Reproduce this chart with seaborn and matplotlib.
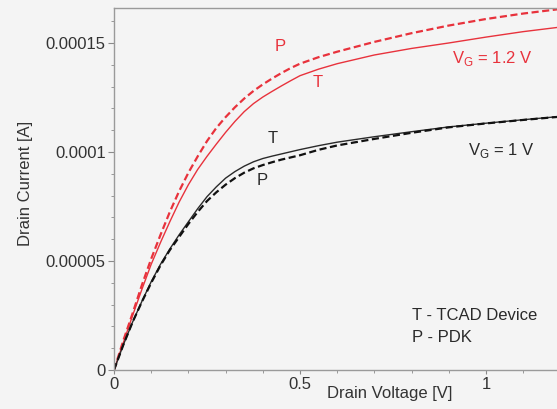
import numpy as np
import pandas as pd
import matplotlib
matplotlib.use("Agg")
import matplotlib.pyplot as plt
import seaborn as sns
from matplotlib.ticker import MultipleLocator, FixedLocator, FixedFormatter

# Drain voltage sweep [V]
vd = [0, 0.025, 0.05, 0.075, 0.1, 0.125, 0.15, 0.175, 0.2, 0.225, 0.25,
      0.275, 0.3, 0.325, 0.35, 0.375, 0.4, 0.425, 0.45, 0.475, 0.5,
      0.55, 0.6, 0.7, 0.8, 0.9, 1.0, 1.1, 1.2]

# Drain current in units of 1e-4 A
id_pdk_12 = [0, 0.135, 0.26, 0.39, 0.51, 0.62, 0.725, 0.82, 0.905, 0.98, 1.05,
             1.11, 1.16, 1.205, 1.245, 1.28, 1.31, 1.337, 1.362, 1.385, 1.405,
             1.435, 1.46, 1.505, 1.545, 1.58, 1.61, 1.635, 1.656]
id_tcad_12 = [0, 0.125, 0.25, 0.37, 0.485, 0.585, 0.68, 0.77, 0.85, 0.92, 0.98,
              1.036, 1.09, 1.14, 1.185, 1.222, 1.252, 1.278, 1.303, 1.327, 1.35,
              1.38, 1.405, 1.445, 1.475, 1.50, 1.527, 1.552, 1.573]
id_tcad_10 = [0, 0.115, 0.22, 0.315, 0.405, 0.485, 0.555, 0.62, 0.68, 0.74, 0.795,
              0.84, 0.88, 0.91, 0.935, 0.955, 0.97, 0.981, 0.991, 1.001, 1.011,
              1.029, 1.045, 1.07, 1.093, 1.115, 1.132, 1.148, 1.163]
id_pdk_10 = [0, 0.115, 0.22, 0.313, 0.40, 0.48, 0.55, 0.61, 0.67, 0.725, 0.775,
             0.815, 0.85, 0.88, 0.905, 0.925, 0.94, 0.953, 0.965, 0.975, 0.985,
             1.01, 1.03, 1.06, 1.088, 1.113, 1.131, 1.147, 1.162]

y_ticks = [0, 0.00005, 0.0001, 0.00015]
y_tick_labels = ["0", "0.00005", "0.0001", "0.00015"]
x_ticks = [0, 0.5, 1]
x_tick_labels = ["0", "0.5", "1"]

bg = "#f4f4f4"
red = "#e8323c"
dark = "#2a2a2a"

sns.set_theme(style="ticks")
plt.rcParams["font.family"] = ["Liberation Sans", "DejaVu Sans"]

fig = plt.figure(figsize=(5.57, 4.09), dpi=100, facecolor=bg)
ax = fig.add_axes([0.2047, 0.0954, 0.7953, 0.8851])
ax.set_facecolor(bg)

scale = 1e-4
n = len(vd)
df = pd.DataFrame({
    "vd": vd * 4,
    "id": np.array(id_pdk_12 + id_tcad_12 + id_tcad_10 + id_pdk_10) * scale,
    "curve": ["P12"] * n + ["T12"] * n + ["T10"] * n + ["P10"] * n,
})

styles = {
    "P12": dict(color=red, linestyle=(0, (3.2, 1.6)), linewidth=1.6),
    "T12": dict(color=red, linestyle="-", linewidth=1.0),
    "T10": dict(color=dark, linestyle="-", linewidth=1.0),
    "P10": dict(color="#111111", linestyle=(0, (3.2, 1.6)), linewidth=1.6),
}
for name, st in styles.items():
    sub = df[df["curve"] == name]
    sns.lineplot(data=sub, x="vd", y="id", ax=ax, legend=False, **st)

ax.set_xlim(0, 1.191)
ax.set_ylim(0, 1.6606 * scale)

ax.xaxis.set_major_locator(FixedLocator(x_ticks))
ax.xaxis.set_major_formatter(FixedFormatter(x_tick_labels))
ax.xaxis.set_minor_locator(MultipleLocator(0.1))
ax.yaxis.set_major_locator(FixedLocator(y_ticks))
ax.yaxis.set_major_formatter(FixedFormatter(y_tick_labels))
ax.yaxis.set_minor_locator(MultipleLocator(0.00001))

tick_col = "#8a8a8a"
ax.tick_params(axis="both", which="major", length=4, width=0.8, color=tick_col,
               labelsize=12, labelcolor="#333333", direction="out")
ax.tick_params(axis="both", which="minor", length=2.5, width=0.6, color=tick_col,
               direction="out")
ax.tick_params(axis="x", which="major", length=3, pad=2)
ax.tick_params(axis="y", which="major", pad=2)

for side in ["left", "bottom", "top"]:
    ax.spines[side].set_color("#9a9a9a")
    ax.spines[side].set_linewidth(1.0)
ax.spines["right"].set_visible(False)

ax.set_xlabel("Drain Voltage [V]", fontsize=12, color="#333333")
ax.set_ylabel("Drain Current [A]", fontsize=12, color="#333333")
ax.xaxis.set_label_coords(0.623, -0.045)
ax.yaxis.set_label_coords(-0.183, 0.514)

txt = dict(fontsize=12, va="center")
ax.text(0.446, 1.482 * scale, "P", color=red, ha="center", **txt)
ax.text(0.548, 1.321 * scale, "T", color=red, ha="center", **txt)
ax.text(0.909, 1.431 * scale, r"V$_\mathregular{G}$ = 1.2 V", color=red, ha="left", **txt)
ax.text(0.427, 1.064 * scale, "T", color=dark, ha="center", **txt)
ax.text(0.398, 0.867 * scale, "P", color=dark, ha="center", **txt)
ax.text(0.952, 1.009 * scale, r"V$_\mathregular{G}$ = 1 V", color=dark, ha="left", **txt)
ax.text(0.801, 0.248 * scale, "T - TCAD Device", color=dark, ha="left", **txt)
ax.text(0.801, 0.151 * scale, "P - PDK", color=dark, ha="left", **txt)

fig.savefig("out.png", dpi=100, facecolor=bg)
